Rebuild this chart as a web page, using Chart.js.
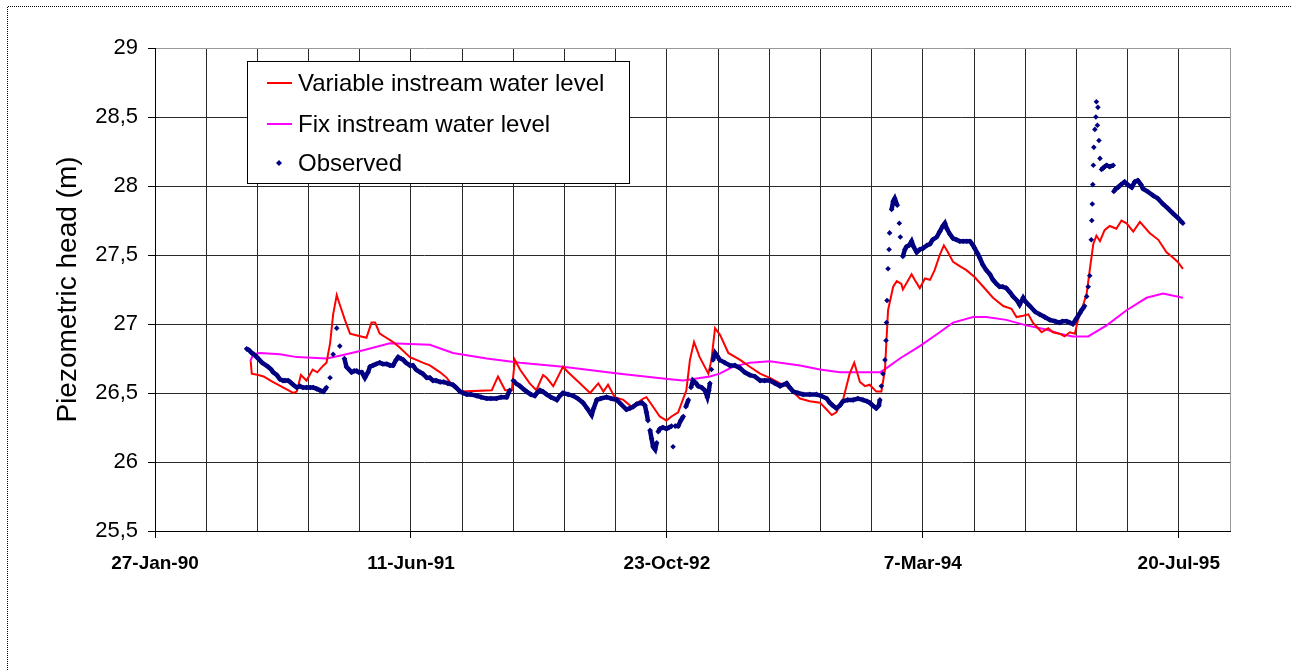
<!DOCTYPE html>
<html>
<head>
<meta charset="utf-8">
<script src="https://cdn.jsdelivr.net/npm/chart.js@4/dist/chart.umd.min.js"></script>
<style>
  body { margin: 0; background: #fff; }
  .wrap { position: relative; width: 1292px; height: 670px; }
</style>
</head>
<body>
<div class="wrap"><canvas id="head-chart"></canvas></div>
<script>
// days counted from 27-Jan-90, heads in metres
const startDate = Date.UTC(1990, 0, 27);
const labelEvery = 500;

const variableLevel = [
  [187,26.73],[189,26.64],[202,26.63],[212,26.62],[230,26.58],[250,26.54],[270,26.50],[277,26.51],[285,26.63],[296,26.59],
  [308,26.67],[317,26.65],[329,26.70],[335,26.72],[342,26.86],[348,27.07],[355,27.21],[361,27.14],[371,27.03],[381,26.93],
  [391,26.92],[413,26.90],[423,27.01],[430,27.01],[439,26.93],[465,26.87],[478,26.83],[498,26.76],[523,26.72],[537,26.70],
  [557,26.65],[570,26.61],[582,26.55],[596,26.51],[658,26.52],[670,26.62],[684,26.52],[697,26.52],[703,26.74],[713,26.67],
  [732,26.57],[745,26.52],[758,26.63],[765,26.61],[778,26.55],[797,26.69],[807,26.65],[830,26.57],[850,26.50],[866,26.57],
  [876,26.51],[885,26.56],[898,26.47],[915,26.45],[931,26.40],[954,26.46],[960,26.47],[973,26.40],[986,26.33],[999,26.30],
  [1009,26.33],[1022,26.36],[1038,26.52],[1045,26.74],[1053,26.87],[1064,26.76],[1081,26.64],[1087,26.74],[1094,26.97],[1104,26.92],
  [1120,26.79],[1143,26.74],[1162,26.69],[1182,26.64],[1201,26.61],[1221,26.57],[1234,26.55],[1260,26.46],[1279,26.44],[1299,26.43],
  [1312,26.38],[1322,26.34],[1331,26.36],[1344,26.45],[1357,26.64],[1366,26.72],[1377,26.58],[1387,26.55],[1396,26.56],[1409,26.51],
  [1419,26.51],[1426,26.67],[1432,27.10],[1442,27.27],[1449,27.31],[1458,27.29],[1461,27.25],[1478,27.36],[1484,27.32],[1494,27.26],
  [1504,27.33],[1514,27.32],[1523,27.39],[1533,27.50],[1541,27.57],[1549,27.52],[1559,27.45],[1572,27.42],[1585,27.39],[1601,27.34],
  [1618,27.27],[1637,27.19],[1657,27.13],[1673,27.11],[1683,27.05],[1696,27.06],[1706,27.07],[1715,27.01],[1732,26.94],[1745,26.97],
  [1754,26.94],[1767,26.93],[1777,26.91],[1787,26.94],[1797,26.93],[1803,27.03],[1810,27.10],[1820,27.22],[1826,27.39],[1833,27.58],
  [1839,27.64],[1846,27.60],[1855,27.68],[1865,27.71],[1878,27.69],[1888,27.75],[1898,27.73],[1911,27.67],[1924,27.74],[1943,27.66],
  [1960,27.61],[1976,27.52],[1989,27.48],[1998,27.45],[2008,27.40]
];

const fixLevel = [
  [186,26.73],[192,26.78],[205,26.79],[244,26.78],[277,26.76],[335,26.75],[361,26.77],[407,26.81],[459,26.86],[537,26.85],
  [582,26.79],[648,26.75],[713,26.72],[797,26.69],[908,26.64],[1006,26.60],[1032,26.59],[1084,26.62],[1103,26.64],[1129,26.69],
  [1162,26.72],[1201,26.73],[1260,26.70],[1299,26.67],[1338,26.65],[1377,26.65],[1416,26.65],[1429,26.68],[1455,26.75],[1494,26.84],
  [1533,26.94],[1559,27.01],[1598,27.05],[1624,27.05],[1663,27.03],[1702,26.99],[1741,26.96],[1767,26.93],[1793,26.91],[1823,26.91],
  [1859,26.99],[1898,27.10],[1937,27.19],[1969,27.22],[2008,27.19]
];

const observed = [
  [179,26.82],[184,26.81],[189,26.79],[193,26.78],[199,26.76],[209,26.72],[221,26.69],[227,26.67],[231,26.65],[238,26.63],
  [244,26.60],[250,26.59],[254,26.59],[260,26.59],[264,26.58],[270,26.56],[277,26.54],[283,26.55],[289,26.54],[296,26.54],
  [303,26.54],[309,26.54],[316,26.53],[322,26.52],[329,26.51],[335,26.54],[342,26.61],[348,26.78],[355,26.97],[361,26.84],
  [370,26.75],[374,26.69],[379,26.67],[384,26.65],[389,26.66],[394,26.66],[398,26.65],[404,26.65],[410,26.61],[416,26.65],
  [420,26.69],[426,26.70],[432,26.71],[439,26.72],[445,26.71],[453,26.71],[459,26.70],[465,26.70],[471,26.74],[475,26.76],
  [480,26.75],[485,26.74],[490,26.72],[498,26.70],[504,26.70],[510,26.67],[518,26.65],[523,26.64],[531,26.61],[537,26.61],
  [543,26.59],[549,26.59],[557,26.58],[564,26.58],[572,26.57],[582,26.56],[588,26.54],[596,26.51],[602,26.50],[609,26.49],
  [617,26.49],[628,26.48],[637,26.47],[648,26.46],[656,26.46],[667,26.46],[676,26.47],[687,26.47],[693,26.52],[700,26.59],
  [705,26.57],[713,26.55],[719,26.53],[726,26.51],[734,26.49],[742,26.48],[746,26.50],[752,26.52],[758,26.51],[765,26.49],
  [773,26.47],[785,26.45],[791,26.48],[797,26.50],[807,26.49],[817,26.48],[826,26.46],[836,26.43],[844,26.39],[853,26.34],
  [857,26.39],[863,26.45],[871,26.46],[882,26.47],[891,26.46],[902,26.45],[910,26.42],[921,26.38],[928,26.39],[934,26.40],
  [941,26.42],[951,26.43],[957,26.41],[960,26.36],[963,26.30],[967,26.23],[970,26.17],[973,26.11],[977,26.09],[980,26.14],
  [983,26.22],[986,26.24],[992,26.25],[999,26.24],[1004,26.25],[1009,26.26],[1012,26.11],[1016,26.26],[1022,26.26],[1027,26.30],
  [1032,26.33],[1037,26.40],[1042,26.45],[1047,26.54],[1051,26.59],[1057,26.57],[1061,26.55],[1068,26.54],[1074,26.52],[1079,26.47],
  [1082,26.52],[1084,26.57],[1087,26.67],[1090,26.74],[1094,26.79],[1098,26.77],[1103,26.74],[1113,26.72],[1123,26.70],[1133,26.70],
  [1143,26.68],[1152,26.65],[1162,26.63],[1172,26.62],[1182,26.59],[1191,26.59],[1201,26.59],[1211,26.57],[1221,26.55],[1234,26.57],
  [1240,26.54],[1247,26.51],[1256,26.50],[1266,26.49],[1279,26.49],[1292,26.49],[1301,26.48],[1312,26.46],[1318,26.43],[1324,26.41],
  [1331,26.39],[1338,26.41],[1344,26.44],[1353,26.45],[1364,26.45],[1373,26.46],[1383,26.45],[1391,26.44],[1396,26.43],[1402,26.41],
  [1409,26.39],[1414,26.41],[1416,26.45],[1419,26.55],[1422,26.64],[1426,26.74],[1428,26.88],[1429,27.01],[1430,27.17],[1432,27.40],
  [1434,27.54],[1435,27.66],[1439,27.83],[1442,27.89],[1445,27.91],[1450,27.86],[1454,27.73],[1456,27.63],[1461,27.49],[1465,27.54],
  [1468,27.56],[1473,27.57],[1478,27.60],[1482,27.56],[1488,27.52],[1494,27.54],[1501,27.55],[1508,27.57],[1514,27.58],[1519,27.61],
  [1527,27.63],[1533,27.67],[1539,27.71],[1543,27.73],[1547,27.69],[1553,27.65],[1559,27.62],[1566,27.61],[1572,27.60],[1579,27.60],
  [1586,27.60],[1592,27.60],[1598,27.57],[1601,27.55],[1607,27.51],[1611,27.48],[1617,27.43],[1624,27.39],[1631,27.36],[1637,27.32],
  [1644,27.29],[1650,27.27],[1656,27.27],[1663,27.26],[1670,27.23],[1676,27.20],[1684,27.17],[1689,27.14],[1696,27.19],[1701,27.16],
  [1709,27.13],[1719,27.09],[1728,27.07],[1738,27.05],[1748,27.03],[1758,27.02],[1767,27.01],[1773,27.02],[1781,27.02],[1787,27.01],
  [1793,27.00],[1800,27.04],[1807,27.08],[1810,27.10],[1816,27.13],[1820,27.20],[1823,27.27],[1826,27.35],[1829,27.61],[1830,27.75],
  [1831,27.87],[1832,28.01],[1833,28.15],[1834,28.28],[1836,28.41],[1838,28.50],[1839,28.61],[1841,28.44],[1842,28.57],[1844,28.33],
  [1846,28.20],[1849,28.12],[1852,28.13],[1855,28.14],[1859,28.15],[1865,28.14],[1872,28.15],[1873,27.96],[1877,27.98],[1881,27.99],
  [1887,28.01],[1894,28.03],[1900,28.01],[1908,27.99],[1914,28.03],[1920,28.04],[1926,28.01],[1930,27.98],[1939,27.96],[1950,27.93],
  [1959,27.91],[1969,27.87],[1978,27.84],[1989,27.80],[1998,27.77],[2008,27.73]
];

const months = ["Jan","Feb","Mar","Apr","May","Jun","Jul","Aug","Sep","Oct","Nov","Dec"];
function dayLabel(d) {
  const t = new Date(startDate + d * 86400000);
  return t.getUTCDate() + "-" + months[t.getUTCMonth()] + "-" + String(t.getUTCFullYear()).slice(2);
}
const pts = arr => arr.map(p => ({ x: p[0], y: p[1] }));

// the observed dots are so dense they read as a band; only join close neighbours
const bandGap = ctx => {
  const dx = ctx.p1.x - ctx.p0.x, dy = ctx.p1.y - ctx.p0.y;
  return Math.sqrt(dx * dx + dy * dy) > 9 ? "rgba(0,0,0,0)" : "#000080";
};

const frame = {
  id: "frame",
  beforeDraw(chart) {
    const c = chart.ctx;
    c.save();
    c.fillStyle = "#fff";
    c.fillRect(0, 0, chart.width, chart.height);
    c.strokeStyle = "#000";
    c.lineWidth = 1;
    c.setLineDash([1, 1]);
    c.beginPath();
    c.moveTo(7.5, chart.height);
    c.lineTo(7.5, 6.5);
    c.lineTo(chart.width, 6.5);
    c.stroke();
    c.restore();
  },
  afterDraw(chart) {
    const c = chart.ctx;
    const a = chart.chartArea;
    const x = a.left + 92, y = a.top + 13, w = 382, h = 122;
    c.save();
    c.fillStyle = "#fff";
    c.fillRect(x, y, w, h);
    c.strokeStyle = "#000";
    c.lineWidth = 1;
    c.strokeRect(x + 0.5, y + 0.5, w, h);
    c.font = "24px 'Liberation Sans', Arial, sans-serif";
    c.textBaseline = "middle";
    const rows = [22, 63, 102];
    chart.data.datasets.forEach((ds, i) => {
      const ry = y + rows[i];
      if (ds.pointRadius > 0) {
        c.fillStyle = ds.backgroundColor;
        c.beginPath();
        c.moveTo(x + 32, ry - 3);
        c.lineTo(x + 35, ry);
        c.lineTo(x + 32, ry + 3);
        c.lineTo(x + 29, ry);
        c.fill();
      } else {
        c.strokeStyle = ds.borderColor;
        c.lineWidth = 2;
        c.beginPath();
        c.moveTo(x + 20, ry);
        c.lineTo(x + 45, ry);
        c.stroke();
      }
      c.fillStyle = "#000";
      c.fillText(ds.label, x + 51, ry + 1);
    });
    c.restore();
  }
};

new Chart(document.getElementById("head-chart"), {
  type: "line",
  data: {
    datasets: [
      {
        label: "Variable instream water level",
        data: pts(variableLevel),
        borderColor: "#ff0000",
        borderWidth: 2,
        pointRadius: 0,
        tension: 0,
        order: 2,
      },
      {
        label: "Fix instream water level",
        data: pts(fixLevel),
        borderColor: "#ff00ff",
        borderWidth: 2,
        pointRadius: 0,
        tension: 0,
        order: 3,
      },
      {
        label: "Observed",
        data: pts(observed),
        borderColor: "#000080",
        borderWidth: 4.5,
        segment: { borderColor: bandGap },
        pointStyle: "rectRot",
        pointRadius: 2.8,
        pointBorderWidth: 0,
        backgroundColor: "#000080",
        order: 1,
      },
    ],
  },
  options: {
    responsive: true,
    maintainAspectRatio: false,
    animation: false,
    layout: {
      padding: { top: 48, right: 62, bottom: 0, left: 0 },
    },
    scales: {
      x: {
        type: "linear",
        min: 0,
        max: 2100,
        afterFit: s => { s.height = 139; },
        border: { display: true, color: "#000" },
        grid: {
          color: c => (c.tick && c.tick.value === 2100 ? "#999" : "#2a2a2a"),
          tickLength: 7,
          tickColor: c => (c.tick && c.tick.value % labelEvery === 0 ? "#000" : "rgba(0,0,0,0)"),
        },
        ticks: {
          stepSize: 100,
          autoSkip: false,
          maxRotation: 0,
          padding: 14,
          color: "#000",
          font: { family: "'Liberation Sans', Arial, sans-serif", size: 19, weight: "bold" },
          callback: v => (v % labelEvery === 0 ? dayLabel(v) : ""),
        },
      },
      y: {
        min: 25.5,
        max: 29,
        afterFit: s => { s.width = 155; },
        border: { display: true, color: "#000" },
        grid: {
          color: c => (c.tick && c.tick.value === 29 ? "#999" : "#2a2a2a"),
          tickLength: 7,
          tickColor: "#000",
        },
        ticks: {
          stepSize: 0.5,
          padding: 10,
          color: "#000",
          font: { family: "'Liberation Sans', Arial, sans-serif", size: 22 },
          callback: v => String(v).replace(".", ","),
        },
        title: {
          display: true,
          text: "Piezometric head (m)",
          color: "#000",
          padding: { top: 51, bottom: 0 },
          font: { family: "'Liberation Sans', Arial, sans-serif", size: 28 },
        },
      },
    },
    plugins: {
      legend: { display: false },
      tooltip: { enabled: false },
    },
  },
  plugins: [frame],
});
</script>
</body>
</html>
